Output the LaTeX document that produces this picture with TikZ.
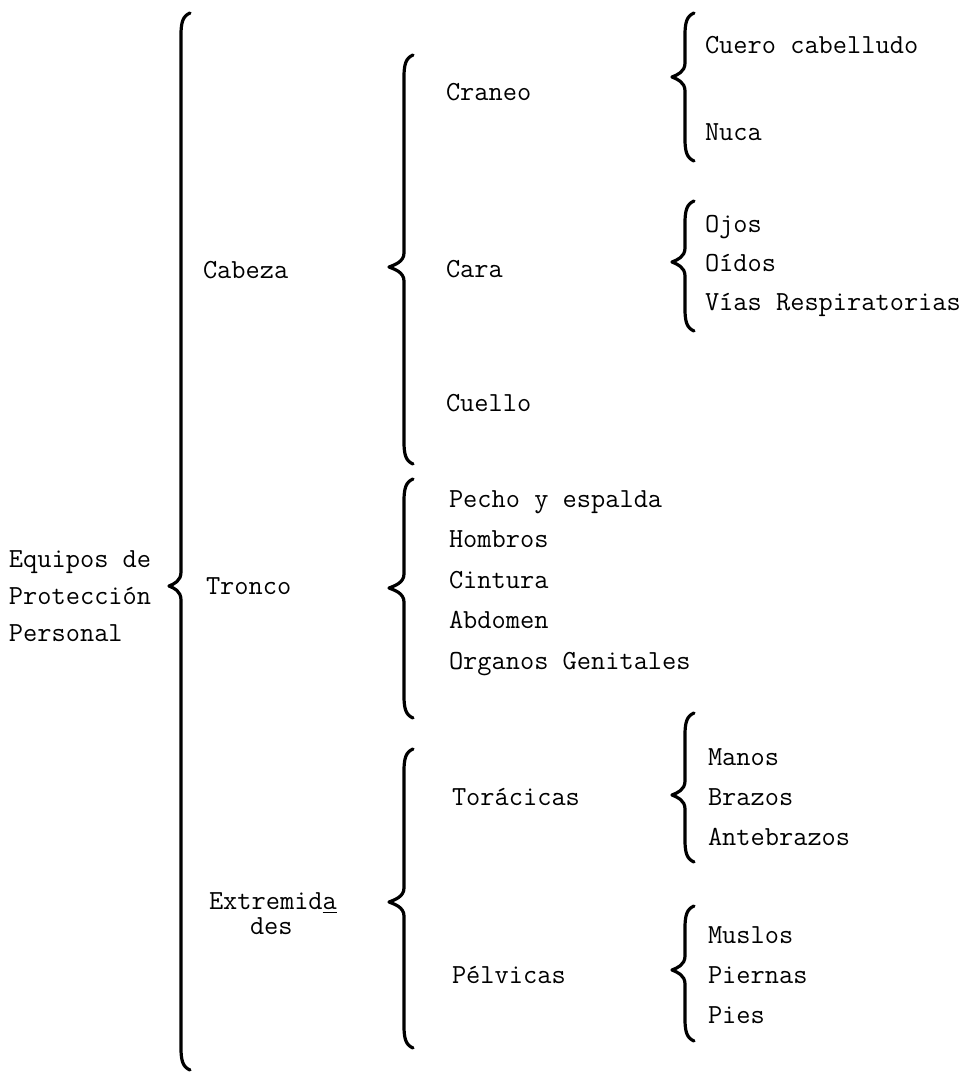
\documentclass[tikz,border=0pt]{standalone}
\usepackage{tikz}

% llave: x of stem, top y, tip y, bottom y, depth of the tip
\newcommand{\llave}[5]{%
  \draw[llavestyle] (#1+9,#2) .. controls (#1+2,#2+3) and (#1,#2+9) .. (#1,#2+22)
    -- (#1,#3-14) .. controls (#1,#3-5) and (#1-#5+5,#3-2) .. (#1-#5,#3)
    .. controls (#1-#5+5,#3+2) and (#1,#3+5) .. (#1,#3+14)
    -- (#1,#4-22) .. controls (#1,#4-9) and (#1+2,#4-3) .. (#1+9,#4);}

\tikzset{
  llavestyle/.style={line width=1.6pt},
  txt/.style={anchor=base west, inner sep=0pt, outer sep=0pt}
}

\begin{document}
\begin{tikzpicture}[x=0.5pt, y=-0.5pt, line join=round, line cap=round,
    font=\fontsize{13.8}{16}\selectfont\ttfamily]
  \useasboundingbox (0,0) rectangle (973,1072);

  % primer nivel
  \node[txt] (equipos) at (9,567) {Equipos de};
  \node[txt] (proteccion) at (9,604) {Protección};
  \node[txt] (personal) at (9,641) {Personal};
  \llave{181}{13}{586}{1070}{12}

  % segundo nivel
  \node[txt] (cabeza) at (203,278) {Cabeza};
  \node[txt] (tronco) at (206,594) {Tronco};
  \node[txt] (extremida) at (209,909) {Extremid\underline{a}};
  \node[txt] (des) at (250,934) {des};
  \llave{404}{55}{267}{464}{15}
  \llave{404}{479}{588}{718}{15}
  \llave{404}{749}{902}{1048}{15}

  % tercer nivel
  \node[txt] (craneo) at (446,100) {Craneo};
  \node[txt] (cara) at (446,277) {Cara};
  \node[txt] (cuello) at (446,411) {Cuello};
  \node[txt] (pecho) at (449,507) {Pecho y espalda};
  \node[txt] (hombros) at (449,547) {Hombros};
  \node[txt] (cintura) at (449,588) {Cintura};
  \node[txt] (abdomen) at (449,628) {Abdomen};
  \node[txt] (organos) at (449,669) {Organos Genitales};
  \node[txt] (toracicas) at (452,805) {Torácicas};
  \node[txt] (pelvicas) at (452,983) {Pélvicas};

  % cuarto nivel
  \llave{685}{13}{77}{161}{13}
  \node[txt] (cuero) at (705,53) {Cuero cabelludo};
  \node[txt] (nuca) at (705,140) {Nuca};
  \llave{685}{201}{262}{331}{13}
  \node[txt] (ojos) at (705,232) {Ojos};
  \node[txt] (oidos) at (705,271) {Oídos};
  \node[txt] (vias) at (705,310) {Vías Respiratorias};
  \llave{685}{713}{795}{862}{13}
  \node[txt] (manos) at (708,765) {Manos};
  \node[txt] (brazos) at (708,805) {Brazos};
  \node[txt] (antebrazos) at (708,845) {Antebrazos};
  \llave{685}{906}{970}{1041}{13}
  \node[txt] (muslos) at (708,943) {Muslos};
  \node[txt] (piernas) at (708,983) {Piernas};
  \node[txt] (pies) at (708,1023) {Pies};
\end{tikzpicture}
\end{document}
